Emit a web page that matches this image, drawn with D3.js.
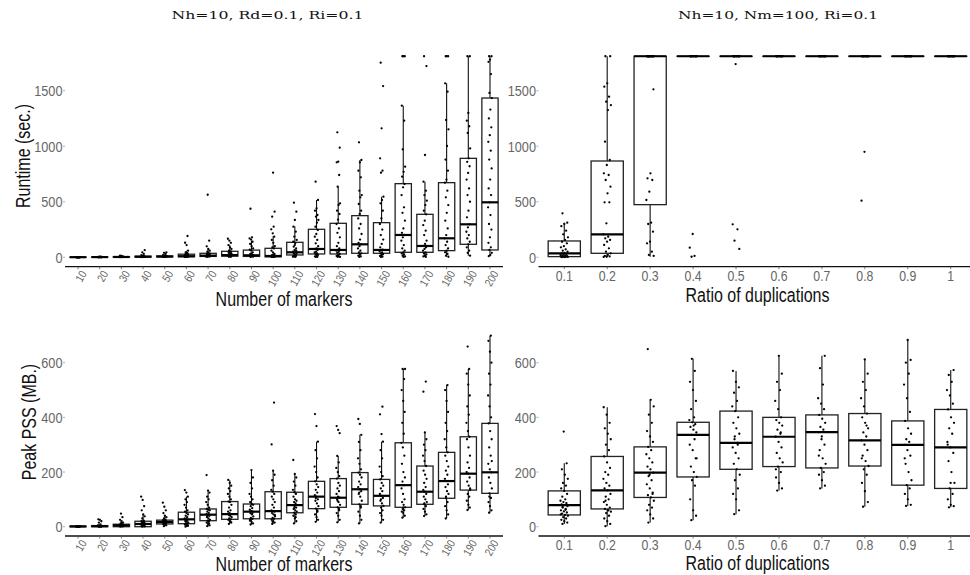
<!DOCTYPE html>
<html>
<head>
<meta charset="utf-8">
<script src="https://cdn.jsdelivr.net/npm/d3@7"></script>
<style>
  body { margin: 0; background: #fff; }
  svg { display: block; }
  .tick-label { font-family: "Liberation Sans", Arial, sans-serif; fill: #666; }
  .axis-title { font-family: "Liberation Sans", Arial, sans-serif; fill: #111; font-size: 19.5px; }
  .panel-title { font-family: "DejaVu Serif", "Liberation Serif", serif; fill: #111; font-size: 11.5px; }
</style>
</head>
<body>
<div id="chart"></div>
<script>
const width = 970
const height = 575

// categories
const markers = ['10', '20', '30', '40', '50', '60', '70', '80', '90', '100',
	'110', '120', '130', '140', '150', '160', '170', '180', '190', '200']
const ratios = ['0.1', '0.2', '0.3', '0.4', '0.5', '0.6', '0.7', '0.8', '0.9', '1']

const runtimeTicks = [0, 500, 1000, 1500]
const pssTicks = [0, 200, 400, 600]

/* Runtime by number of markers: box stats */
const rtQ1 = [0.5, 1, 2, 3, 4, 5, 8, 10, 8, 4, 21, 30, 30, 36, 36, 45, 45, 60, 117, 66]
const rtMed = [1, 2, 3, 5, 7, 10, 15, 20, 18, 12, 45, 75, 66, 117, 66, 201, 102, 171, 297, 495]
const rtQ3 = [1.5, 3, 5, 10, 12, 28, 36, 54, 65, 81, 135, 252, 306, 375, 312, 663, 387, 672, 891, 1434]
const rtLo = [0, 0, 1, 1, 2, 1, 2, 3, 2, 1, 2, 3, 3, 3, 3, 3, 3, 5, 15, 10]
const rtHi = [3, 5, 9, 20, 24, 60, 75, 110, 150, 190, 280, 516, 636, 876, 546, 1365, 681, 1566, 1810, 1810]
const rtPoints = [
	[0, 0, 0, 1, 1, 1, 1, 1, 1, 2, 2, 2, 2, 1, 0, 1, 1, 2, 1, 1],
	[1, 1, 2, 2, 2, 3, 3, 2, 1, 2, 3, 4, 2, 2, 1, 3, 2, 5, 3, 2],
	[2, 2, 3, 3, 4, 4, 5, 3, 2, 4, 6, 8, 3, 5, 4, 12, 15, 3, 4, 2],
	[2, 3, 4, 5, 6, 8, 3, 10, 12, 4, 6, 20, 30, 45, 65, 5, 7, 9, 3, 2],
	[3, 4, 5, 6, 8, 10, 12, 5, 7, 9, 15, 20, 30, 40, 45, 6, 4, 8, 11, 13],
	[3, 5, 6, 8, 10, 12, 15, 20, 25, 30, 8, 6, 40, 45, 60, 110, 131, 192, 5, 9, 14, 18, 22],
	[5, 8, 10, 12, 15, 18, 20, 25, 30, 35, 40, 12, 8, 50, 60, 75, 99, 150, 563, 6, 16, 22, 28],
	[5, 8, 10, 15, 18, 20, 25, 30, 40, 50, 55, 12, 6, 60, 75, 90, 110, 130, 150, 167, 9, 22, 35, 45],
	[5, 6, 8, 10, 15, 18, 20, 25, 30, 45, 60, 70, 12, 9, 80, 100, 120, 140, 160, 170, 180, 437, 14, 35],
	[3, 4, 5, 6, 8, 10, 12, 15, 20, 30, 45, 60, 80, 90, 100, 130, 156, 186, 216, 252, 276, 366, 411, 762, 5, 7, 9, 11, 25],
	[492, 411, 336, 276, 231, 186, 156, 126, 96, 81, 66, 51, 45, 36, 30, 21, 15, 12, 8, 5, 3, 40, 60, 110, 140],
	[681, 516, 441, 420, 381, 366, 336, 312, 276, 246, 210, 186, 156, 126, 100, 81, 75, 66, 51, 45, 36, 30, 21, 12, 8, 5, 3],
	[1125, 987, 861, 855, 741, 636, 486, 471, 420, 390, 340, 300, 260, 220, 180, 130, 100, 80, 66, 60, 50, 40, 30, 20, 12, 8, 5, 3],
	[1035, 876, 855, 780, 720, 600, 560, 540, 480, 420, 390, 350, 300, 260, 210, 160, 130, 117, 100, 80, 60, 45, 36, 25, 15, 8, 3],
	[1752, 1542, 1161, 891, 780, 762, 546, 516, 486, 420, 350, 300, 250, 200, 160, 120, 90, 70, 66, 55, 45, 36, 28, 20, 12, 6, 3],
	[1810, 1810, 1810, 1365, 1230, 972, 816, 770, 726, 660, 630, 560, 450, 400, 330, 260, 220, 201, 180, 150, 110, 80, 60, 45, 35, 25, 15, 8, 3],
	[1810, 1722, 921, 681, 600, 560, 510, 470, 420, 387, 330, 290, 240, 200, 150, 120, 102, 90, 75, 60, 45, 35, 25, 15, 8, 3],
	[1810, 1810, 1810, 1566, 1491, 1236, 1152, 1002, 880, 780, 700, 672, 600, 540, 470, 400, 330, 260, 200, 171, 140, 110, 80, 60, 45, 30, 15, 5],
	[1810, 1810, 1300, 1230, 1180, 1120, 980, 891, 860, 820, 760, 700, 620, 560, 500, 420, 360, 297, 270, 230, 200, 170, 140, 117, 90, 60, 40, 15],
	[1810, 1810, 1780, 1760, 1650, 1480, 1434, 1330, 1250, 1170, 1100, 1040, 960, 880, 800, 700, 620, 560, 495, 450, 380, 300, 250, 180, 130, 90, 66, 40, 20, 10]
]

/* Runtime by ratio of duplications */
const rdQ1 = [6, 36, 474, 1810, 1810, 1810, 1810, 1810, 1810, 1810]
const rdMed = [36, 207, 1810, 1810, 1810, 1810, 1810, 1810, 1810, 1810]
const rdQ3 = [147, 867, 1810, 1810, 1810, 1810, 1810, 1810, 1810, 1810]
const rdLo = [0, 3, 5, 1810, 1810, 1810, 1810, 1810, 1810, 1810]
const rdHi = [310, 1810, 1810, 1810, 1810, 1810, 1810, 1810, 1810, 1810]
const rdPoints = [
	[396, 312, 300, 280, 240, 207, 180, 156, 140, 126, 100, 90, 72, 60, 51, 40, 36, 30, 25, 20, 15, 12, 10, 8, 6, 5, 4, 3, 2, 1],
	[1810, 1810, 1566, 1536, 1446, 1401, 1371, 1326, 1041, 876, 831, 756, 741, 696, 636, 576, 495, 495, 306, 207, 186, 171, 156, 141, 111, 81, 51, 36, 21, 12, 8, 5, 3],
	[1810, 1810, 1810, 1810, 1810, 1810, 1810, 1810, 1810, 1810, 1810, 1810, 1810, 1810, 1512, 756, 711, 696, 591, 516, 312, 300, 231, 141, 126, 51, 21, 12],
	[1810, 1810, 1810, 1810, 1810, 1810, 1810, 1810, 1810, 1810, 210, 87, 12, 5],
	[1810, 1810, 1810, 1810, 1810, 1810, 1810, 1810, 1810, 1810, 1740, 297, 252, 150, 75],
	[1810, 1810, 1810, 1810, 1810, 1810, 1810, 1810, 1810, 1810],
	[1810, 1810, 1810, 1810, 1810, 1810, 1810, 1810, 1810, 1810],
	[1810, 1810, 1810, 1810, 1810, 1810, 1810, 1810, 1810, 1810, 950, 510],
	[1810, 1810, 1810, 1810, 1810, 1810, 1810, 1810, 1810, 1810],
	[1810, 1810, 1810, 1810, 1810, 1810, 1810, 1810, 1810, 1810]
]

/* Peak PSS by number of markers */
const psQ1 = [0, 0, 0, 0, 10, 11, 22, 27, 29, 29, 51, 66, 71, 82, 76, 71, 82, 104, 134, 122]
const psMed = [1, 2, 5, 10, 17, 27, 44, 46, 55, 57, 79, 110, 106, 137, 113, 152, 128, 167, 194, 199]
const psQ3 = [2, 4, 9, 20, 24, 53, 65, 92, 83, 128, 126, 166, 176, 198, 173, 307, 222, 272, 329, 378]
const psLo = [0, 0, 0, 0, 2, 0, 2, 10, 8, 10, 12, 18, 16, 12, 15, 33, 39, 30, 61, 51]
const psHi = [3, 8, 20, 45, 40, 110, 130, 170, 207, 205, 193, 311, 259, 336, 311, 577, 345, 518, 577, 699]
const psPoints = [
	[0, 0, 1, 1, 1, 1, 2, 2, 1, 1, 0, 1, 2, 1, 1, 0, 2, 1, 1, 1],
	[0, 1, 1, 2, 2, 2, 3, 3, 4, 1, 2, 5, 8, 15, 20, 25, 27, 1, 2, 3],
	[0, 1, 2, 3, 4, 5, 5, 6, 7, 8, 9, 3, 4, 12, 15, 20, 25, 35, 48, 2, 6],
	[0, 1, 2, 4, 6, 8, 10, 12, 14, 16, 18, 20, 22, 30, 38, 45, 60, 75, 98, 110, 5, 9, 3],
	[2, 5, 8, 10, 12, 14, 15, 17, 18, 20, 22, 24, 26, 30, 35, 40, 50, 60, 73, 88, 12, 16, 19],
	[0, 3, 5, 8, 10, 12, 15, 18, 20, 25, 27, 30, 35, 40, 45, 50, 55, 60, 70, 80, 90, 100, 110, 125, 134, 6, 22],
	[2, 5, 10, 15, 20, 22, 25, 30, 35, 40, 44, 46, 50, 55, 60, 62, 65, 70, 80, 90, 100, 110, 125, 132, 189, 12, 38],
	[10, 15, 20, 25, 27, 30, 35, 40, 45, 46, 50, 55, 60, 70, 80, 90, 92, 100, 110, 120, 130, 140, 150, 160, 171, 18, 42],
	[8, 12, 18, 25, 29, 32, 38, 45, 50, 55, 58, 62, 68, 75, 80, 83, 90, 100, 110, 120, 140, 160, 180, 207, 22, 48],
	[10, 15, 20, 25, 29, 32, 38, 45, 50, 55, 57, 60, 70, 80, 90, 100, 110, 120, 128, 135, 150, 170, 190, 205, 301, 454, 18, 42],
	[12, 20, 30, 40, 45, 51, 55, 60, 65, 70, 75, 79, 85, 90, 95, 100, 110, 120, 126, 135, 150, 165, 180, 193, 244, 35, 68],
	[18, 25, 35, 45, 55, 66, 75, 85, 95, 100, 110, 115, 125, 135, 145, 155, 166, 180, 200, 220, 250, 280, 311, 368, 412, 60, 105],
	[16, 25, 40, 50, 60, 71, 80, 90, 100, 106, 110, 120, 130, 140, 150, 160, 176, 185, 200, 215, 235, 259, 342, 354, 368, 65, 95],
	[12, 25, 40, 55, 70, 82, 95, 110, 120, 130, 137, 145, 155, 165, 180, 190, 198, 210, 230, 250, 280, 310, 336, 376, 394, 75, 125],
	[15, 25, 40, 50, 60, 70, 76, 85, 95, 105, 113, 120, 130, 140, 150, 160, 173, 185, 200, 220, 250, 280, 311, 339, 411, 439, 100],
	[33, 40, 50, 55, 60, 65, 71, 80, 90, 100, 120, 140, 152, 165, 180, 200, 230, 260, 290, 307, 340, 380, 420, 460, 500, 540, 577, 577, 70],
	[39, 45, 55, 65, 75, 82, 90, 100, 110, 120, 128, 135, 145, 160, 175, 190, 205, 222, 240, 260, 280, 300, 320, 345, 494, 531, 85],
	[30, 45, 60, 75, 90, 104, 120, 130, 145, 155, 167, 175, 190, 205, 220, 240, 260, 272, 290, 320, 350, 380, 420, 460, 500, 518, 110],
	[61, 70, 80, 95, 110, 120, 134, 150, 165, 180, 194, 200, 215, 235, 260, 290, 320, 329, 350, 380, 410, 440, 480, 520, 560, 577, 659, 140],
	[51, 60, 75, 90, 105, 122, 140, 160, 180, 199, 210, 230, 260, 290, 320, 350, 378, 400, 440, 480, 520, 560, 600, 640, 680, 699, 110, 240]
]

/* Peak PSS by ratio of duplications */
const pdQ1 = [43, 65, 107, 182, 210, 220, 215, 222, 152, 140]
const pdMed = [79, 133, 198, 336, 307, 329, 346, 316, 299, 290]
const pdQ3 = [131, 257, 292, 382, 423, 400, 409, 414, 387, 429]
const pdLo = [10, 2, 15, 24, 46, 132, 140, 73, 76, 71]
const pdHi = [232, 437, 464, 614, 570, 625, 625, 612, 683, 573]
const pdPoints = [
	[10, 15, 20, 25, 30, 35, 40, 43, 48, 52, 56, 60, 65, 70, 75, 79, 82, 86, 90, 95, 100, 110, 120, 131, 140, 150, 160, 175, 190, 210, 232, 348, 45, 62, 72],
	[2, 10, 20, 30, 40, 50, 55, 60, 65, 70, 80, 90, 100, 110, 120, 133, 140, 150, 160, 175, 190, 200, 215, 235, 257, 280, 300, 320, 340, 360, 380, 410, 437, 60, 95],
	[15, 30, 45, 60, 70, 80, 95, 107, 115, 125, 140, 155, 170, 185, 198, 210, 220, 235, 250, 265, 280, 292, 310, 330, 350, 380, 410, 440, 464, 650, 120, 190],
	[24, 40, 60, 100, 150, 170, 182, 200, 220, 250, 280, 300, 320, 336, 345, 355, 365, 375, 382, 390, 400, 430, 460, 500, 530, 570, 614, 250, 370],
	[46, 60, 100, 120, 140, 170, 190, 210, 230, 250, 270, 290, 307, 320, 340, 360, 380, 400, 423, 440, 460, 490, 510, 530, 570, 300, 330],
	[132, 140, 160, 180, 200, 220, 235, 250, 270, 290, 310, 329, 340, 355, 370, 380, 390, 400, 430, 460, 500, 530, 560, 625, 210, 345],
	[140, 150, 170, 190, 200, 215, 230, 250, 280, 300, 320, 346, 355, 365, 380, 395, 409, 430, 450, 470, 520, 580, 625, 330, 260],
	[73, 90, 130, 160, 190, 210, 222, 240, 260, 280, 300, 316, 330, 345, 360, 380, 400, 414, 440, 470, 500, 530, 560, 612, 250, 370],
	[76, 80, 100, 120, 140, 152, 170, 200, 230, 260, 280, 299, 310, 320, 340, 360, 387, 420, 470, 520, 560, 600, 610, 683, 250],
	[71, 75, 80, 100, 120, 140, 160, 200, 240, 270, 290, 310, 340, 360, 380, 400, 429, 450, 480, 500, 530, 555, 573, 160, 300]
]

const svg = d3.select('#chart')
	.append('svg')
	.attr('width', width)
	.attr('height', height)
	.attr('viewBox', `0 0 ${width} ${height}`)

// no narrow sans is installed, so squeeze Liberation Sans sideways
const narrow = 'scale(0.82,1)'

// spread of the jittered dots, as a share of one category step
const jitterShare = 0.09

const drawPanel = (cfg) => {
	const g = svg.append('g')

	const xScale = d3.scalePoint()
		.domain(cfg.cats)
		.range(cfg.xRange)
		.padding(0.6)

	const yScale = d3.scaleLinear()
		.domain(cfg.yDomain)
		.range(cfg.yRange)

	const step = xScale.step()
	const boxW = step * 0.75

	const rows = cfg.cats.map((c, i) => ({
		cat: c,
		q1: cfg.q1[i],
		med: cfg.med[i],
		q3: cfg.q3[i],
		lo: cfg.lo[i],
		hi: cfg.hi[i],
		pts: cfg.pts[i]
	}))

	/* Whiskers */
	g.selectAll('.whisker-hi')
		.data(rows)
		.join('line')
		.attr('x1', (d) => xScale(d.cat))
		.attr('x2', (d) => xScale(d.cat))
		.attr('y1', (d) => yScale(d.q3))
		.attr('y2', (d) => yScale(d.hi))
		.attr('stroke', '#111')
		.attr('stroke-width', 1.1)

	g.selectAll('.whisker-lo')
		.data(rows)
		.join('line')
		.attr('x1', (d) => xScale(d.cat))
		.attr('x2', (d) => xScale(d.cat))
		.attr('y1', (d) => yScale(d.q1))
		.attr('y2', (d) => yScale(d.lo))
		.attr('stroke', '#111')
		.attr('stroke-width', 1.1)

	/* Boxes */
	g.selectAll('.box')
		.data(rows)
		.join('rect')
		.attr('x', (d) => xScale(d.cat) - boxW / 2)
		.attr('width', boxW)
		.attr('y', (d) => yScale(d.q3))
		.attr('height', (d) => Math.max(0.01, yScale(d.q1) - yScale(d.q3)))
		.attr('fill', '#fff')
		.attr('stroke', '#222')
		.attr('stroke-width', 1.3)

	g.selectAll('.median')
		.data(rows)
		.join('line')
		.attr('x1', (d) => xScale(d.cat) - boxW / 2)
		.attr('x2', (d) => xScale(d.cat) + boxW / 2)
		.attr('y1', (d) => yScale(d.med))
		.attr('y2', (d) => yScale(d.med))
		.attr('stroke', '#000')
		.attr('stroke-width', 2.2)

	/* Jittered dots */
	const dots = rows.flatMap((d) => d.pts.map((v, j) => ({ cat: d.cat, v, j })))
	g.selectAll('.dot')
		.data(dots)
		.join('circle')
		.attr('cx', (d) => {
			const u = ((d.j * 0.618034 + 0.27) % 1) - 0.5
			return xScale(d.cat) + u * 2 * jitterShare * step
		})
		.attr('cy', (d) => yScale(d.v))
		.attr('r', 1.15)
		.attr('fill', '#000')

	/* X axis */
	g.append('line')
		.attr('x1', cfg.xRange[0])
		.attr('x2', cfg.xRange[1])
		.attr('y1', cfg.axisY)
		.attr('y2', cfg.axisY)
		.attr('stroke', '#111')
		.attr('stroke-width', 1.3)

	g.selectAll('.xtick')
		.data(cfg.cats)
		.join('line')
		.attr('x1', (d) => xScale(d))
		.attr('x2', (d) => xScale(d))
		.attr('y1', cfg.axisY)
		.attr('y2', cfg.axisY + 2.5)
		.attr('stroke', '#555')
		.attr('stroke-width', 0.8)

	if (cfg.rotate) {
		g.selectAll('.xlab')
			.data(cfg.cats)
			.join('text')
			.attr('class', 'tick-label')
			.attr('transform', (d) => `translate(${xScale(d) + 5.5},${cfg.axisY + 5})rotate(-60)${narrow}`)
			.attr('text-anchor', 'end')
			.attr('dy', '0.35em')
			.style('font-size', '11.5px')
			.text((d) => d)
	} else {
		g.selectAll('.xlab')
			.data(cfg.cats)
			.join('text')
			.attr('class', 'tick-label')
			.attr('transform', (d) => `translate(${xScale(d)},${cfg.axisY + cfg.xLabOffset})${narrow}`)
			.attr('text-anchor', 'middle')
			.style('font-size', '15px')
			.text((d) => d)
	}

	/* Y axis labels */
	g.selectAll('.ytick')
		.data(cfg.yTicks)
		.join('line')
		.attr('x1', cfg.xRange[0] - 2)
		.attr('x2', cfg.xRange[0])
		.attr('y1', (d) => yScale(d))
		.attr('y2', (d) => yScale(d))
		.attr('stroke', '#999')
		.attr('stroke-width', 0.8)

	g.selectAll('.ylab')
		.data(cfg.yTicks)
		.join('text')
		.attr('class', 'tick-label')
		.attr('transform', (d) => `translate(${cfg.xRange[0] - 2.5},${yScale(d)})${narrow}`)
		.attr('dy', '0.36em')
		.attr('text-anchor', 'end')
		.style('font-size', '15.5px')
		.text((d) => d)

	/* Titles */
	g.append('text')
		.attr('class', 'axis-title')
		.attr('transform', `translate(${(cfg.xRange[0] + cfg.xRange[1]) / 2},${cfg.xTitleY})${narrow}`)
		.attr('text-anchor', 'middle')
		.text(cfg.xTitle)

	if (cfg.yTitle) {
		g.append('text')
			.attr('class', 'axis-title')
			.attr('transform', `translate(${cfg.yTitleX},${cfg.yTitleY})rotate(-90)${narrow}`)
			.attr('text-anchor', 'middle')
			.text(cfg.yTitle)
	}
}

drawPanel({
	cats: markers, q1: rtQ1, med: rtMed, q3: rtQ3, lo: rtLo, hi: rtHi, pts: rtPoints,
	xRange: [65, 503], yDomain: [0, 1500], yRange: [257.3, 90.7], axisY: 266.7,
	yTicks: runtimeTicks, rotate: true,
	xTitle: 'Number of markers', xTitleY: 306,
	yTitle: 'Runtime (sec.)', yTitleX: 29.5, yTitleY: 156
})

drawPanel({
	cats: ratios, q1: rdQ1, med: rdMed, q3: rdQ3, lo: rdLo, hi: rdHi, pts: rdPoints,
	xRange: [538.5, 976.5], yDomain: [0, 1500], yRange: [257.3, 90.7], axisY: 266.7,
	yTicks: runtimeTicks, rotate: false, xLabOffset: 14,
	xTitle: 'Ratio of duplications', xTitleY: 302
})

drawPanel({
	cats: markers, q1: psQ1, med: psMed, q3: psQ3, lo: psLo, hi: psHi, pts: psPoints,
	xRange: [65, 503], yDomain: [0, 600], yRange: [526.7, 362.7], axisY: 536,
	yTicks: pssTicks, rotate: true,
	xTitle: 'Number of markers', xTitleY: 571,
	yTitle: 'Peak PSS (MB.)', yTitleX: 35.5, yTitleY: 422
})

drawPanel({
	cats: ratios, q1: pdQ1, med: pdMed, q3: pdQ3, lo: pdLo, hi: pdHi, pts: pdPoints,
	xRange: [538.5, 976.5], yDomain: [0, 600], yRange: [526.7, 362.7], axisY: 536,
	yTicks: pssTicks, rotate: false, xLabOffset: 13.5,
	xTitle: 'Ratio of duplications', xTitleY: 570
})

/* Panel headings */
svg.append('text')
	.attr('class', 'panel-title')
	.attr('x', 267.5)
	.attr('y', 19)
	.attr('text-anchor', 'middle')
	.attr('textLength', 192)
	.attr('lengthAdjust', 'spacingAndGlyphs')
	.text('Nh=10, Rd=0.1, Ri=0.1')

svg.append('text')
	.attr('class', 'panel-title')
	.attr('x', 778)
	.attr('y', 19)
	.attr('text-anchor', 'middle')
	.attr('textLength', 200)
	.attr('lengthAdjust', 'spacingAndGlyphs')
	.text('Nh=10, Nm=100, Ri=0.1')
</script>
</body>
</html>
